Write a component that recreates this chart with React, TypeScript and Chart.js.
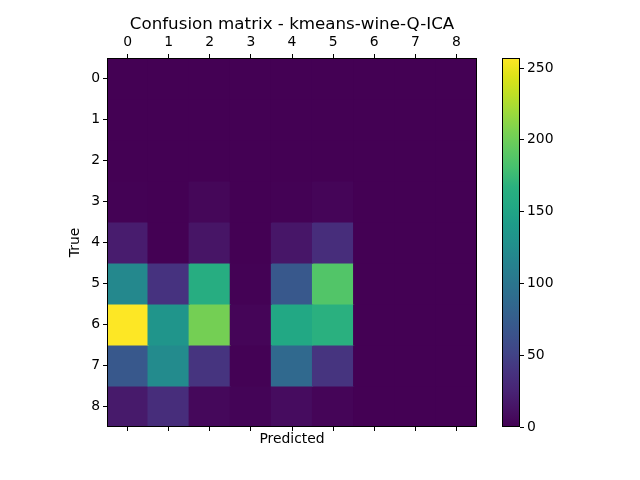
import React, { useEffect, useRef } from "react";
import { Chart, registerables } from "chart.js";

Chart.register(...registerables);

const classLabels = ["0", "1", "2", "3", "4", "5", "6", "7", "8"];

// rows = true class, columns = predicted class
const row0 = [0, 0, 0, 0, 0, 0, 0, 0, 0];
const row1 = [0, 0, 0, 0, 0, 0, 0, 0, 0];
const row2 = [0, 0, 0, 0, 0, 0, 0, 0, 0];
const row3 = [1, 0, 4, 0, 1, 3, 0, 0, 0];
const row4 = [20, 0, 14, 0, 15, 33, 0, 0, 0];
const row5 = [120, 38, 162, 1, 70, 187, 0, 0, 0];
const row6 = [257, 133, 203, 3, 154, 167, 0, 0, 0];
const row7 = [70, 123, 39, 1, 87, 39, 0, 0, 0];
const row8 = [18, 33, 5, 2, 8, 3, 0, 0, 0];
const counts = [row0, row1, row2, row3, row4, row5, row6, row7, row8];

const colorbarTicks = [0, 50, 100, 150, 200, 250];

const vmax = Math.max(...counts.flat());

const FONT = "DejaVu Sans";
const TICK_SIZE = 13.9;
const TITLE_SIZE = 16.7;

// viridis samples at 0, 0.05, ..., 1
const viridisStops = [
  "#440154", "#471365", "#482475", "#46337f", "#414487", "#3b528b", "#355f8d",
  "#2f6c8e", "#2a788e", "#25848e", "#21918c", "#1e9c89", "#22a884", "#2ab07f",
  "#44bf70", "#5ec962", "#7ad151", "#9bd93c", "#bddf26", "#dde318", "#fde725",
];

const hexToRgb = (h: string) => [
  parseInt(h.slice(1, 3), 16),
  parseInt(h.slice(3, 5), 16),
  parseInt(h.slice(5, 7), 16),
];

const viridis = (t: number) => {
  const c = Math.min(1, Math.max(0, t)) * (viridisStops.length - 1);
  const i = Math.min(Math.floor(c), viridisStops.length - 2);
  const f = c - i;
  const a = hexToRgb(viridisStops[i]);
  const b = hexToRgb(viridisStops[i + 1]);
  const m = a.map((v, k) => Math.round(v + (b[k] - v) * f));
  return `rgb(${m[0]}, ${m[1]}, ${m[2]})`;
};

const framePlugin = {
  id: "frame",
  afterDatasetsDraw(chart: Chart) {
    const { ctx, chartArea } = chart;
    ctx.save();
    ctx.strokeStyle = "#000";
    ctx.lineWidth = 1;
    ctx.strokeRect(
      Math.round(chartArea.left) + 0.5,
      Math.round(chartArea.top) + 0.5,
      Math.round(chartArea.right - chartArea.left) - 1,
      Math.round(chartArea.bottom - chartArea.top) - 1
    );
    ctx.restore();
  },
};

const tickGrid = {
  drawOnChartArea: false,
  drawTicks: true,
  tickLength: 4,
  tickColor: "#000",
  offset: false,
};

const App: React.FC = () => {
  const matrixRef = useRef<HTMLCanvasElement>(null);
  const barRef = useRef<HTMLCanvasElement>(null);

  useEffect(() => {
    if (!matrixRef.current || !barRef.current) return;
    Chart.defaults.font.family = FONT;
    Chart.defaults.color = "#000";

    const matrix = new Chart(matrixRef.current, {
      type: "bar",
      data: {
        labels: classLabels,
        datasets: counts.map((row, r) => ({
          data: row.map(() => [r - 0.5, r + 0.5]),
          backgroundColor: row.map((v) => viridis(v / vmax)),
          borderWidth: 0,
          inflateAmount: 0.6,
          barPercentage: 1,
          categoryPercentage: 1,
          grouped: false,
        })),
      } as any,
      options: {
        responsive: false,
        animation: false,
        layout: { padding: { left: 0, right: 163, top: 0, bottom: 0 } },
        plugins: { legend: { display: false }, tooltip: { enabled: false } },
        scales: {
          x: {
            type: "category",
            position: "top",
            offset: true,
            grid: tickGrid,
            border: { display: false },
            ticks: { font: { size: TICK_SIZE }, color: "#000", padding: 3, maxRotation: 0 },
            title: {
              display: true,
              text: "Confusion matrix - kmeans-wine-Q-ICA",
              font: { size: TITLE_SIZE },
              color: "#000",
              padding: { top: 15, bottom: 0 },
            },
            afterFit: (s: any) => {
              s.height = 58;
            },
          },
          xBottom: {
            type: "category",
            position: "bottom",
            offset: true,
            grid: tickGrid,
            border: { display: false },
            ticks: { callback: () => "", font: { size: TICK_SIZE } },
            title: {
              display: true,
              text: "Predicted",
              font: { size: TICK_SIZE },
              color: "#000",
              padding: { top: 0, bottom: 32.7 },
            },
            afterFit: (s: any) => {
              s.height = 53;
            },
          },
          y: {
            type: "linear",
            min: -0.5,
            max: 8.5,
            reverse: true,
            grid: tickGrid,
            border: { display: false },
            afterBuildTicks: (s: any) => {
              s.ticks = classLabels.map((l) => ({ value: Number(l) }));
            },
            ticks: {
              font: { size: TICK_SIZE },
              color: "#000",
              padding: 3,
              callback: (v: any) => String(v),
            },
            title: {
              display: true,
              text: "True",
              font: { size: TICK_SIZE },
              color: "#000",
              padding: { top: 66.7, bottom: 0 },
            },
            afterFit: (s: any) => {
              s.width = 107;
            },
          },
        },
      } as any,
      plugins: [framePlugin],
    });

    const colorbar = new Chart(barRef.current, {
      type: "bar",
      data: {
        labels: [""],
        datasets: [
          {
            data: [[0, vmax]],
            borderWidth: 0,
            barPercentage: 1,
            categoryPercentage: 1,
            backgroundColor: (c: any) => {
              const area = c.chart.chartArea;
              if (!area) return viridis(0);
              const g = c.chart.ctx.createLinearGradient(0, area.bottom, 0, area.top);
              viridisStops.forEach((col, i) => g.addColorStop(i / (viridisStops.length - 1), col));
              return g;
            },
          },
        ],
      } as any,
      options: {
        responsive: false,
        animation: false,
        layout: { padding: { left: 502, right: 60, top: 58, bottom: 53 } },
        plugins: { legend: { display: false }, tooltip: { enabled: false } },
        scales: {
          x: { display: false, offset: true },
          y: {
            type: "linear",
            position: "right",
            min: 0,
            max: vmax,
            grid: { ...tickGrid },
            border: { display: false },
            afterBuildTicks: (s: any) => {
              s.ticks = colorbarTicks.map((v) => ({ value: v }));
            },
            ticks: { font: { size: TICK_SIZE }, color: "#000", padding: 3 },
            afterFit: (s: any) => {
              s.width = 60;
            },
          },
        },
      } as any,
      plugins: [framePlugin],
    });

    return () => {
      matrix.destroy();
      colorbar.destroy();
    };
  }, []);

  return (
    <div style={{ position: "fixed", left: 0, top: 0, width: 640, height: 480, background: "#fff" }}>
      <canvas ref={matrixRef} width={640} height={480} style={{ position: "absolute", left: 0, top: 0 }} />
      <canvas ref={barRef} width={640} height={480} style={{ position: "absolute", left: 0, top: 0 }} />
    </div>
  );
};

export default App;
